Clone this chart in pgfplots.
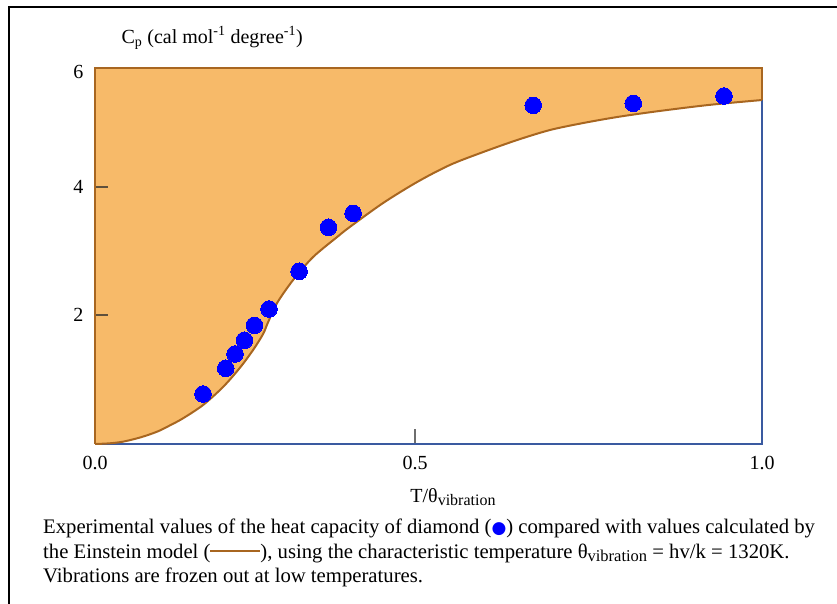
\documentclass[border=0pt]{standalone}
\usepackage{pgfplots}
\pgfplotsset{compat=1.18}
\usepackage{fontspec}
\setmainfont{Liberation Serif}
\newfontfamily\dejavu{DejaVu Sans}
\definecolor{orangec}{RGB}{247,186,105}
\definecolor{brownc}{RGB}{168,102,32}
\definecolor{axisblue}{RGB}{58,90,160}
\definecolor{tickc}{RGB}{95,80,60}
\definecolor{xtickc}{RGB}{110,110,110}
\newcommand\sub[2]{\raisebox{-0.35ex}{\fontsize{#1}{#1}\selectfont #2}}
\begin{document}
\begin{tikzpicture}
\path[use as bounding box] (-95pt,-160pt) rectangle (742pt,444pt);
\draw[line width=2pt,black] (-86pt,-170pt) -- (-86pt,437pt) -- (750pt,437pt);
\begin{axis}[
  at={(0pt,0pt)}, anchor=south west,
  scale only axis, width=667pt, height=376pt,
  xmin=0, xmax=1, ymin=0, ymax=6,
  clip=false,
  axis line style={draw=none},
  major tick length=0pt,
  tick style={draw=none},
  xtick={0.48}, xticklabels={0.5},
  extra x ticks={0,1}, extra x tick labels={0.0,1.0},
  ytick={2.06,4.10}, yticklabels={2,4},
  extra y ticks={5.94}, extra y tick labels={6},
  ticklabel style={font=\fontsize{20}{24}\selectfont},
  xticklabel style={yshift=-9pt},
  yticklabel style={xshift=-8pt},
  /pgf/number format/assume math mode=true,
]
% filled region above the Einstein curve
\addplot[draw=none, fill=orangec, forget plot] coordinates {
 (0,6) (0,0) (0.021,0.010) (0.042,0.037) (0.068,0.105) (0.093,0.196) (0.112,0.295) (0.132,0.410) (0.162,0.622) (0.192,0.910)
 (0.217,1.213) (0.237,1.500) (0.252,1.755) (0.259,1.931) (0.273,2.250)
 (0.297,2.617) (0.327,2.984) (0.363,3.303) (0.382,3.463) (0.432,3.846)
 (0.483,4.181) (0.532,4.452) (0.582,4.659) (0.633,4.851) (0.682,5.010)
 (0.732,5.122) (0.783,5.218) (0.840,5.305) (0.920,5.410) (1,5.489) (1,6)} -- cycle;
% blue axis lines (bottom and right)
\addplot[axisblue, line width=2pt, forget plot] coordinates {(0,0) (1,0) (1,5.489)};
% brown border of the region
\addplot[brownc, line width=2pt, forget plot] coordinates {(0,0) (0,6) (1,6) (1,5.489)};
% Einstein curve
\addplot[brownc, line width=2pt, smooth, forget plot] coordinates {
 (0,0) (0.021,0.010) (0.042,0.037) (0.068,0.105) (0.093,0.196) (0.112,0.295) (0.132,0.410) (0.162,0.622) (0.192,0.910)
 (0.217,1.213) (0.237,1.500) (0.252,1.755) (0.259,1.931) (0.273,2.250)
 (0.297,2.617) (0.327,2.984) (0.363,3.303) (0.382,3.463) (0.432,3.846)
 (0.483,4.181) (0.532,4.452) (0.582,4.659) (0.633,4.851) (0.682,5.010)
 (0.732,5.122) (0.783,5.218) (0.840,5.305) (0.920,5.410) (1,5.489)};
% experimental values
\addplot[blue, only marks, mark=*, mark size=8.3pt, mark options={fill=blue, draw=blue, line width=0pt}] coordinates {
 (0.162,0.798) (0.196,1.208) (0.210,1.436) (0.224,1.655) (0.239,1.894)
 (0.261,2.154) (0.306,2.756) (0.350,3.458) (0.387,3.681)
 (0.657,5.404) (0.807,5.436) (0.943,5.553)};
\end{axis}
% tick marks
\draw[tickc, line width=2.6pt] (1pt,257pt) -- (13pt,257pt);
\draw[tickc, line width=2.6pt] (1pt,129pt) -- (13pt,129pt);
\draw[xtickc, line width=2.4pt] (320pt,1pt) -- (320pt,15pt);
\node[anchor=west, font=\fontsize{20}{24}\selectfont] at (23pt,406pt)
  {C\textsubscript{p} (cal mol\textsuperscript{-1} degree\textsuperscript{-1})};
\node[font=\fontsize{20}{24}\selectfont] at (358pt,-53pt) {T/θ\sub{16}{vibration}};
\begin{scope}[every node/.style={anchor=base west, inner sep=0pt, font=\fontsize{20.7}{24}\selectfont}]
\node at (-52pt,-89pt) {Experimental values of the heat capacity of diamond ({\dejavu\fontsize{17}{18}\selectfont\textcolor{blue}{●}}) compared with values calculated by};
\node at (-52pt,-114pt) {the Einstein model (\textcolor{brownc}{\rule[0.3em]{50pt}{2pt}}), using the characteristic temperature θ\sub{16.5}{vibration} = hv/k = 1320K.};
\node at (-52pt,-138pt) {Vibrations are frozen out at low temperatures.};
\end{scope}
\end{tikzpicture}
\end{document}
